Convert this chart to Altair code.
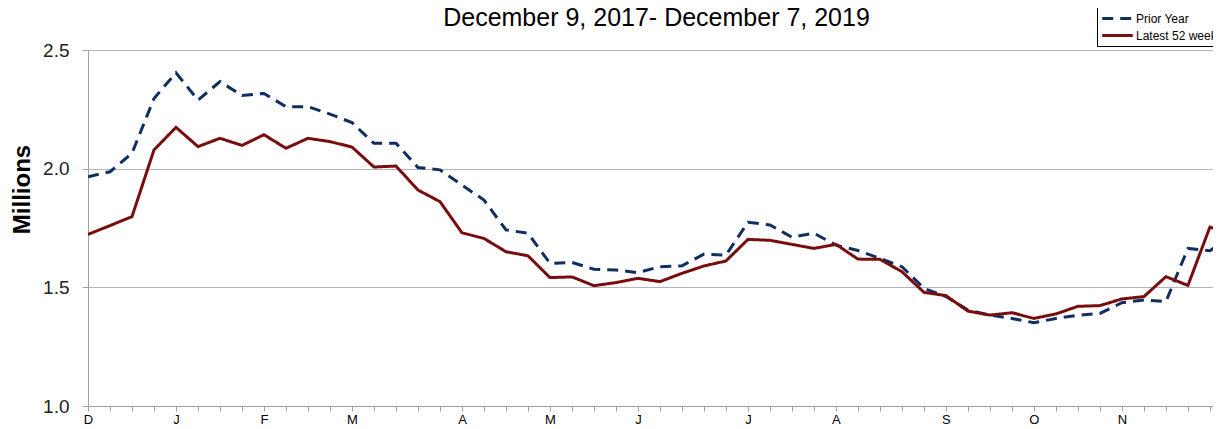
import altair as alt
import pandas as pd

# ---- data ----
weeks = list(range(53))
prior_year = [1.966, 1.987, 2.065, 2.296, 2.404, 2.289, 2.367, 2.308, 2.317, 2.261,
              2.261, 2.230, 2.194, 2.107, 2.107,
              2.005, 1.995, 1.931, 1.868, 1.742, 1.728, 1.601, 1.605, 1.576, 1.573,
              1.562, 1.587, 1.591, 1.640, 1.636, 1.774, 1.763, 1.711, 1.728, 1.678, 1.655,
              1.622, 1.587, 1.496, 1.461, 1.404, 1.383, 1.369, 1.351, 1.369, 1.382,
              1.390, 1.435, 1.447, 1.440, 1.664, 1.654, 1.72]
latest_52 = [1.723, 1.760, 1.798, 2.079, 2.174, 2.093, 2.128, 2.098, 2.143, 2.086,
             2.128, 2.114, 2.091, 2.007, 2.011,
             1.910, 1.861, 1.730, 1.706, 1.650, 1.633, 1.541, 1.544, 1.507, 1.520,
             1.538, 1.524, 1.559, 1.590, 1.611, 1.702, 1.698, 1.681, 1.664, 1.681, 1.619,
             1.618, 1.566, 1.479, 1.465, 1.400, 1.383, 1.393, 1.369, 1.388, 1.420,
             1.423, 1.451, 1.461, 1.545, 1.508, 1.754, 1.72]
series_names = ["Prior Year", "Latest 52 weeks"]
series_colors = ["#112e63", "#780d0d"]
month_positions = [0, 4, 8, 12, 17, 21, 25, 30, 34, 39, 43, 47]
month_labels = ["D", "J", "F", "M", "A", "M", "J", "J", "A", "S", "O", "N"]
y_ticks = [1.0, 1.5, 2.0, 2.5]
tick_weeks = list(range(52))

df = pd.DataFrame({
    "week": weeks * 2,
    "value": prior_year + latest_52,
    "series": [series_names[0]] * len(weeks) + [series_names[1]] * len(weeks),
})

label_expr = ""
for p, l in zip(month_positions, month_labels):
    label_expr += f"datum.value == {p} ? '{l}' : "
label_expr += "''"

FONT = "Liberation Sans"

legend_common = dict(title=None, orient="none", legendX=1009, legendY=-46)

chart = alt.Chart(df).mark_line(strokeWidth=3, clip=True).encode(
    x=alt.X("week:Q",
            scale=alt.Scale(domain=[0, 51.14], nice=False, zero=False),
            axis=alt.Axis(values=tick_weeks, labelExpr=label_expr, title=None,
                          grid=False, tickSize=5, tickColor="#a0a0a0",
                          domainColor="#a0a0a0", labelFontSize=13, labelColor="#000",
                          labelFont=FONT, labelPadding=2, labelFlush=False)),
    y=alt.Y("value:Q",
            scale=alt.Scale(domain=[1.0, 2.5], nice=False, zero=False),
            axis=alt.Axis(values=y_ticks, format=".1f", title="Millions",
                          titleFontSize=24, titleFont=FONT, titleFontWeight="bold",
                          titleColor="#000", titleAngle=270, titleBaseline="middle",
                          titleAlign="center", titleX=-66, titleY=139,
                          labelFontSize=19, labelFont=FONT, labelColor="#222",
                          labelPadding=13, tickSize=6, tickColor="#a0a0a0",
                          domainColor="#a0a0a0", gridColor="#b4b4b4", gridWidth=1)),
    color=alt.Color("series:N",
                    scale=alt.Scale(domain=series_names, range=series_colors),
                    legend=alt.Legend(**legend_common,
                                      symbolType="M-1.7,0H1.7", symbolStrokeWidth=3,
                                      symbolSize=324, symbolOffset=6,
                                      labelFontSize=12, labelFont=FONT,
                                      labelColor="#000", strokeColor="#000",
                                      fillColor="#fff", padding=4, rowPadding=0,
                                      labelOffset=8)),
    strokeDash=alt.StrokeDash("series:N",
                              scale=alt.Scale(domain=series_names, range=[[11, 7], [1, 0]]),
                              legend=alt.Legend(**legend_common)),
).properties(
    width=1125,
    height=356,
    title=alt.Title("December 9, 2017- December 7, 2019", fontSize=25, font=FONT,
                    fontWeight="normal", color="#000", anchor="middle", offset=-27,
                    frame="group", dx=6),
    autosize=alt.AutoSizeParams(type="none"),
    padding={"left": 80, "top": 42, "right": 0, "bottom": 21},
).configure_view(stroke=None).configure(background="white")

chart.save("out.html", embed_options={"renderer": "svg", "actions": False})
